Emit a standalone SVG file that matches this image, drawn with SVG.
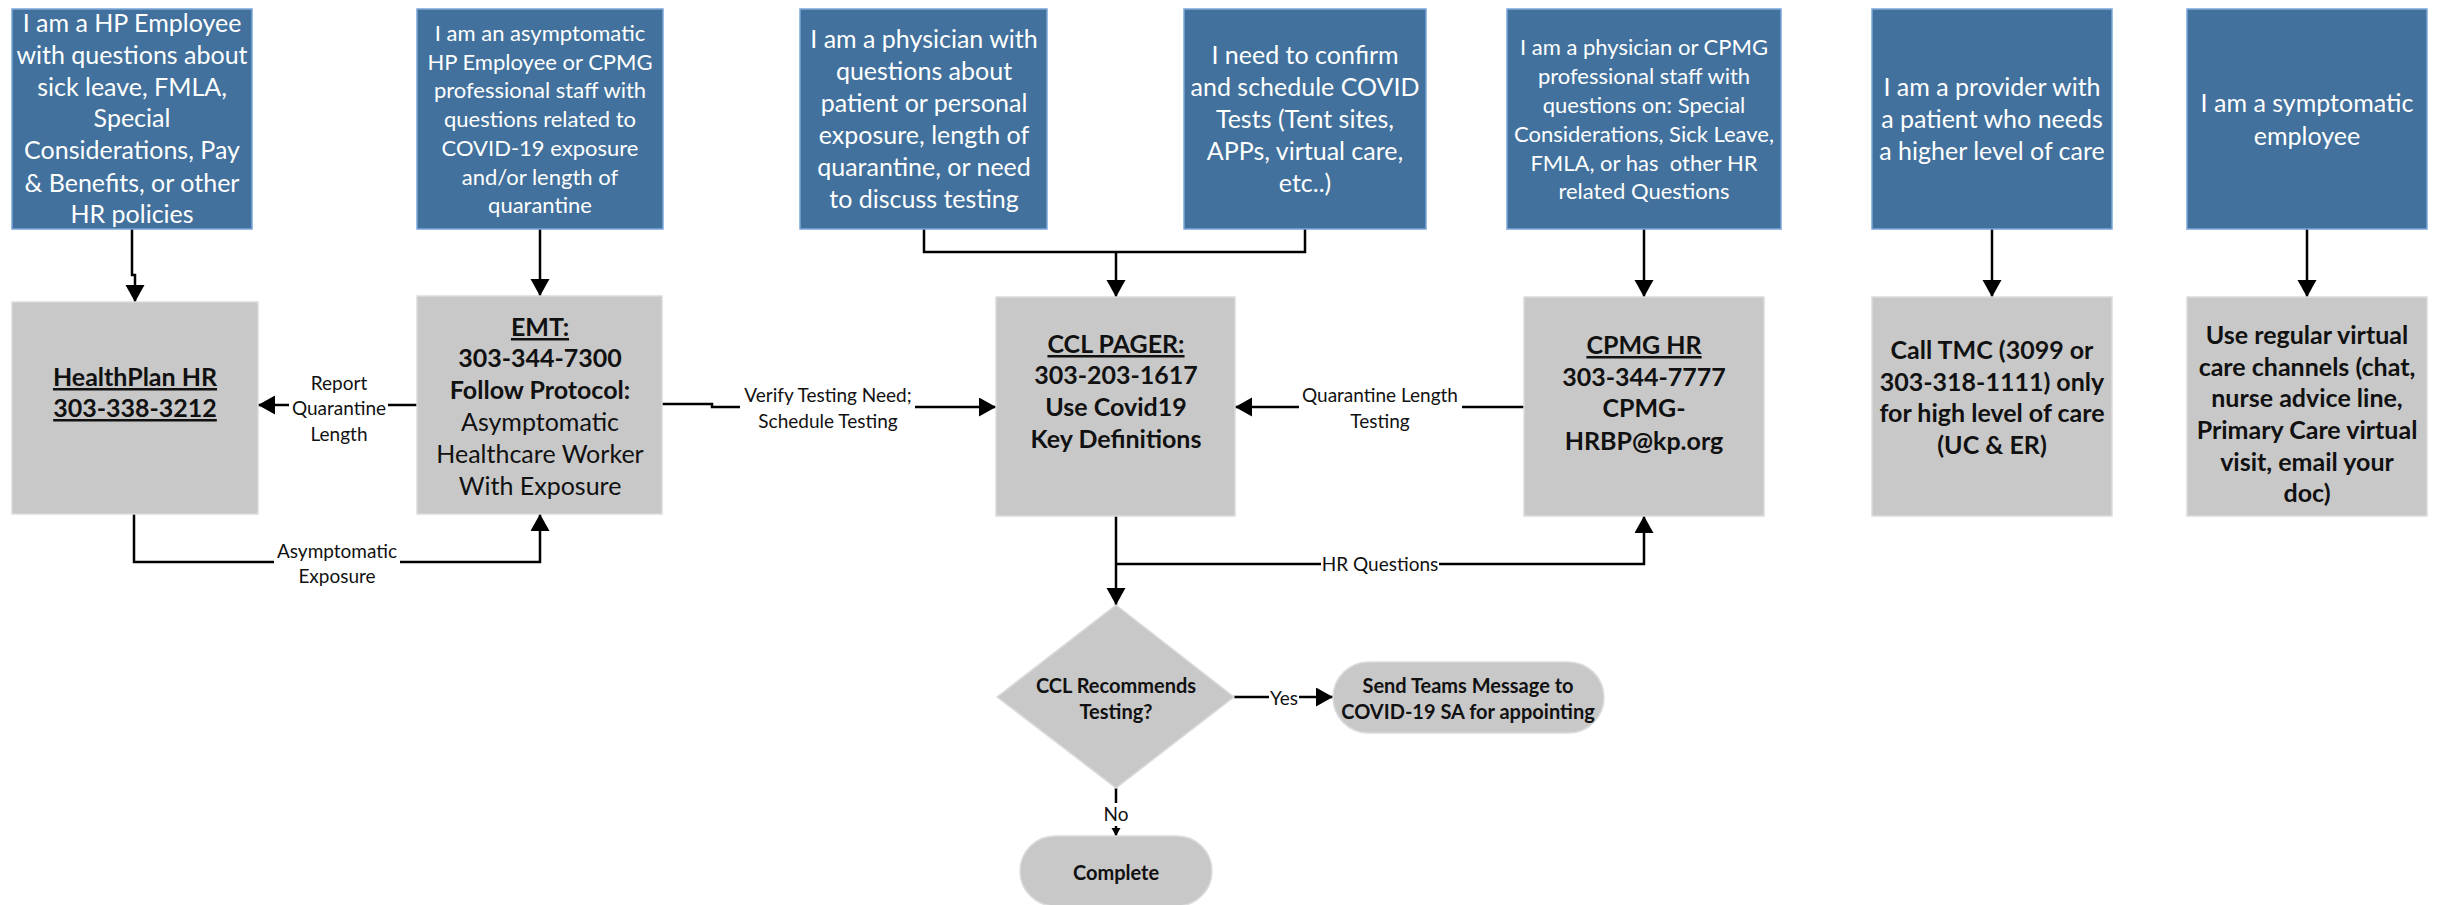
<svg xmlns="http://www.w3.org/2000/svg" width="2440" height="905" viewBox="0 0 2440 905">
<style>
.blue{fill:#41719c;stroke:#7aa6d8;stroke-width:1.5}
.grey{fill:#c8c8c8;stroke:#dcdcdc;stroke-width:1.5}
.bt{font-family:Lato,"Liberation Sans",sans-serif;fill:#ffffff;text-anchor:middle;font-weight:400}
.b25{font-size:25px}
.b22{font-size:22px}
.gt{font-family:Lato,"Liberation Sans",sans-serif;fill:#111111;text-anchor:middle;font-size:25px}
.bold{font-weight:700}
.u{text-decoration:underline}
.st{font-family:Lato,"Liberation Sans",sans-serif;fill:#111111;text-anchor:middle;font-size:20px;font-weight:700}
.lbl{font-family:Lato,"Liberation Sans",sans-serif;fill:#111111;text-anchor:middle;font-size:19px}
.ln{fill:none;stroke:#000000;stroke-width:2.5}
.mask{fill:#ffffff;stroke:none}
</style>
<defs>
<marker id="ah" markerUnits="userSpaceOnUse" markerWidth="18" markerHeight="20" refX="17" refY="9.5" orient="auto">
<path d="M0 0 L17 9.5 L0 19 Z" fill="#000000"/>
</marker>
<marker id="ahs" markerUnits="userSpaceOnUse" markerWidth="9" markerHeight="10" refX="8" refY="4.5" orient="auto">
<path d="M0 0 L8 4.5 L0 9 Z" fill="#000000"/>
</marker>
</defs>
<rect width="2440" height="905" fill="#ffffff"/>

<g id="connectors">
<path class="ln" d="M132 229 V275 H135 V302" marker-end="url(#ah)"/>
<path class="ln" d="M540 229 V296" marker-end="url(#ah)"/>
<path class="ln" d="M417 405 H258" marker-end="url(#ah)"/>
<path class="ln" d="M134 514 V562 H540 V514" marker-end="url(#ah)"/>
<path class="ln" d="M662 404 H712 V407 H996" marker-end="url(#ah)"/>
<path class="ln" d="M924 229 V252 H1305 V229"/>
<path class="ln" d="M1116 252 V297" marker-end="url(#ah)"/>
<path class="ln" d="M1524 407 H1235" marker-end="url(#ah)"/>
<path class="ln" d="M1116 516 V605" marker-end="url(#ah)"/>
<path class="ln" d="M1116 564 H1644 V516" marker-end="url(#ah)"/>
<path class="ln" d="M1644 229 V297" marker-end="url(#ah)"/>
<path class="ln" d="M1992 229 V297" marker-end="url(#ah)"/>
<path class="ln" d="M2307 229 V297" marker-end="url(#ah)"/>
<path class="ln" d="M1234 697 H1333" marker-end="url(#ah)"/>
<path class="ln" d="M1116 788 V836" marker-end="url(#ahs)"/>
<rect class="mask" x="289" y="396" width="99" height="22"/>
<rect class="mask" x="274" y="540" width="126" height="26"/>
<rect class="mask" x="740" y="383" width="175" height="50"/>
<rect class="mask" x="1299" y="383" width="163" height="50"/>
<rect class="mask" x="1321" y="553" width="118" height="22"/>
<rect class="mask" x="1269" y="687" width="30" height="22"/>
<rect class="mask" x="1100" y="803" width="32" height="23"/>
<text class="lbl" x="339" y="390">Report</text>
<text class="lbl" x="339" y="415">Quarantine</text>
<text class="lbl" x="339" y="441">Length</text>
<text class="lbl" x="337" y="558">Asymptomatic</text>
<text class="lbl" x="337" y="583">Exposure</text>
<text class="lbl" x="828" y="402">Verify Testing Need;</text>
<text class="lbl" x="828" y="428">Schedule Testing</text>
<text class="lbl" x="1380" y="402">Quarantine Length</text>
<text class="lbl" x="1380" y="428">Testing</text>
<text class="lbl" x="1380" y="571">HR Questions</text>
<text class="lbl" x="1284" y="705">Yes</text>
<text class="lbl" x="1116" y="821">No</text>
</g>

<g id="q1">
<rect class="blue" x="12" y="9" width="240" height="220"/>
<text class="bt b25" x="132" y="32">I am a HP Employee</text>
<text class="bt b25" x="132" y="64">with questions about</text>
<text class="bt b25" x="132" y="96">sick leave, FMLA,</text>
<text class="bt b25" x="132" y="127">Special</text>
<text class="bt b25" x="132" y="159">Considerations, Pay</text>
<text class="bt b25" x="132" y="192">&amp; Benefits, or other</text>
<text class="bt b25" x="132" y="223">HR policies</text>
</g>

<g id="q2">
<rect class="blue" x="417" y="9" width="246" height="220"/>
<text class="bt b22" x="540" y="41">I am an asymptomatic</text>
<text class="bt b22" x="540" y="70">HP Employee or CPMG</text>
<text class="bt b22" x="540" y="98">professional staff with</text>
<text class="bt b22" x="540" y="127">questions related to</text>
<text class="bt b22" x="540" y="156">COVID-19 exposure</text>
<text class="bt b22" x="540" y="185">and/or length of</text>
<text class="bt b22" x="540" y="213">quarantine</text>
</g>

<g id="q3">
<rect class="blue" x="800" y="9" width="247" height="220"/>
<text class="bt b25" x="924" y="48">I am a physician with</text>
<text class="bt b25" x="924" y="80">questions about</text>
<text class="bt b25" x="924" y="112">patient or personal</text>
<text class="bt b25" x="924" y="144">exposure, length of</text>
<text class="bt b25" x="924" y="176">quarantine, or need</text>
<text class="bt b25" x="924" y="208">to discuss testing</text>
</g>

<g id="q4">
<rect class="blue" x="1184" y="9" width="242" height="220"/>
<text class="bt b25" x="1305" y="64">I need to confirm</text>
<text class="bt b25" x="1305" y="96">and schedule COVID</text>
<text class="bt b25" x="1305" y="128">Tests (Tent sites,</text>
<text class="bt b25" x="1305" y="160">APPs, virtual care,</text>
<text class="bt b25" x="1305" y="192">etc..)</text>
</g>

<g id="q5">
<rect class="blue" x="1507" y="9" width="274" height="220"/>
<text class="bt b22" x="1644" y="55">I am a physician or CPMG</text>
<text class="bt b22" x="1644" y="84">professional staff with</text>
<text class="bt b22" x="1644" y="113">questions on: Special</text>
<text class="bt b22" x="1644" y="142">Considerations, Sick Leave,</text>
<text class="bt b22" x="1644" y="171" xml:space="preserve">FMLA, or has  other HR</text>
<text class="bt b22" x="1644" y="199">related Questions</text>
</g>

<g id="q6">
<rect class="blue" x="1872" y="9" width="240" height="220"/>
<text class="bt b25" x="1992" y="96">I am a provider with</text>
<text class="bt b25" x="1992" y="128">a patient who needs</text>
<text class="bt b25" x="1992" y="160">a higher level of care</text>
</g>

<g id="q7">
<rect class="blue" x="2187" y="9" width="240" height="220"/>
<text class="bt b25" x="2307" y="112">I am a symptomatic</text>
<text class="bt b25" x="2307" y="145">employee</text>
</g>

<g id="healthplan">
<rect class="grey" x="12" y="302" width="246" height="212"/>
<text class="gt bold u" x="135" y="386">HealthPlan HR</text>
<text class="gt bold u" x="135" y="417">303-338-3212</text>
</g>

<g id="emt">
<rect class="grey" x="417" y="296" width="245" height="218"/>
<text class="gt bold u" x="540" y="336">EMT:</text>
<text class="gt bold" x="540" y="367">303-344-7300</text>
<text class="gt bold" x="540" y="399">Follow Protocol:</text>
<text class="gt" x="540" y="431">Asymptomatic</text>
<text class="gt" x="540" y="463">Healthcare Worker</text>
<text class="gt" x="540" y="495">With Exposure</text>
</g>

<g id="ccl">
<rect class="grey" x="996" y="297" width="239" height="219"/>
<text class="gt bold u" x="1116" y="353">CCL PAGER:</text>
<text class="gt bold" x="1116" y="384">303-203-1617</text>
<text class="gt bold" x="1116" y="416">Use Covid19</text>
<text class="gt bold" x="1116" y="448">Key Definitions</text>
</g>

<g id="cpmghr">
<rect class="grey" x="1524" y="297" width="240" height="219"/>
<text class="gt bold u" x="1644" y="354">CPMG HR</text>
<text class="gt bold" x="1644" y="386">303-344-7777</text>
<text class="gt bold" x="1644" y="417">CPMG-</text>
<text class="gt bold" x="1644" y="450">HRBP@kp.org</text>
</g>

<g id="tmc">
<rect class="grey" x="1872" y="297" width="240" height="219"/>
<text class="gt bold" x="1992" y="359">Call TMC (3099 or</text>
<text class="gt bold" x="1992" y="391">303-318-1111) only</text>
<text class="gt bold" x="1992" y="422">for high level of care</text>
<text class="gt bold" x="1992" y="454">(UC &amp; ER)</text>
</g>

<g id="virtual">
<rect class="grey" x="2187" y="297" width="240" height="219"/>
<text class="gt bold" x="2307" y="344">Use regular virtual</text>
<text class="gt bold" x="2307" y="376">care channels (chat,</text>
<text class="gt bold" x="2307" y="407">nurse advice line,</text>
<text class="gt bold" x="2307" y="439">Primary Care virtual</text>
<text class="gt bold" x="2307" y="471">visit, email your</text>
<text class="gt bold" x="2307" y="502">doc)</text>
</g>

<g id="decision">
<polygon class="grey" points="1116,605 1234,697 1116,788 997,697"/>
<text class="st" x="1116" y="693">CCL Recommends</text>
<text class="st" x="1116" y="719">Testing?</text>
</g>

<g id="sendteams">
<rect class="grey" x="1333" y="662" width="271" height="71" rx="35.5"/>
<text class="st" x="1468" y="693">Send Teams Message to</text>
<text class="st" x="1468" y="719">COVID-19 SA for appointing</text>
</g>

<g id="complete">
<rect class="grey" x="1020" y="836" width="192" height="70" rx="35"/>
<text class="st" x="1116" y="880">Complete</text>
</g>
</svg>
